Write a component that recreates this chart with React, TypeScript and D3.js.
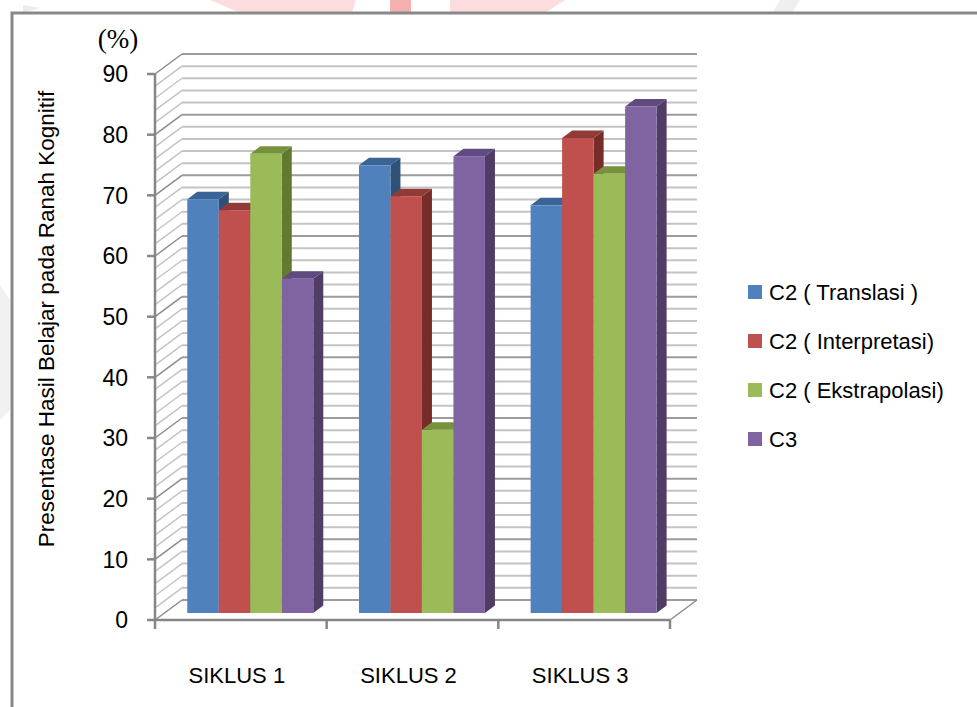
import * as d3 from 'd3';
import React from 'react';

// data
const categories = ['SIKLUS 1', 'SIKLUS 2', 'SIKLUS 3'];
const seriesNames = ['C2 ( Translasi )', 'C2 ( Interpretasi)', 'C2 ( Ekstrapolasi)', 'C3'];
const translasi = [68.2, 73.8, 67.2];
const interpretasi = [66.4, 68.7, 78.3];
const ekstrapolasi = [75.7, 30.2, 72.4];
const c3 = [55.1, 75.3, 83.5];
const yTicks = [0, 10, 20, 30, 40, 50, 60, 70, 80, 90];

const frontColors = ['#4F81BD', '#C0504D', '#9BBB59', '#8064A2'];
const topColors = ['#3A6496', '#913B39', '#76923C', '#5F4B80'];
const sideColors = ['#2F5178', '#772C2A', '#62792F', '#4F3D66'];

const W = 977;
const H = 707;
const sans = "'Liberation Sans', Arial, sans-serif";
const serif = "'Liberation Serif', 'Times New Roman', serif";

export default function App() {
	const values = [translasi, interpretasi, ekstrapolasi, c3];

	// 3d box of the plot
	const depthX = 27;
	const depthY = -20;
	const x0 = d3.scaleBand<string>().domain(categories).range([155, 670]).paddingInner(0).paddingOuter(0);
	const x1 = d3
		.scaleBand<string>()
		.domain(seriesNames)
		.range([0, x0.bandwidth()])
		.paddingInner(0)
		.paddingOuter(0.725);
	const y = d3.scaleLinear().domain([0, 90]).range([620, 74]);

	const barF = 0.35; // where the front face of the bars sits in depth
	const barDx = 10;
	const barDy = -7.5;
	const bx = barF * depthX;
	const by = barF * depthY;

	const grid = d3.range(0, 91, 2);
	const xLeft = 155;
	const xRight = 670;

	const bars: any[] = [];
	categories.forEach((c, ci) => {
		seriesNames.forEach((s, si) => {
			bars.push({ c, s, si, v: values[si][ci] });
		});
	});

	return (
		<div style={{ position: 'absolute', left: 0, top: 0 }}>
			<svg width={W} height={H} viewBox={`0 0 ${W} ${H}`} style={{ display: 'block', background: '#fff' }}>
				{/* faint watermark behind the chart frame */}
				<g>
					<polygon points="210,0 356,0 352,13 240,13" fill="#fcdcdc" />
					<polygon points="390,0 411,0 411,13 390,13" fill="#f7b0b0" />
					<polygon points="450,0 565,0 545,13 450,13" fill="#fcdcdc" />
					<polygon points="23,5 40,8 23,13" fill="#ececec" />
					<polygon points="780,0 800,0 792,13 772,13" fill="#efefef" />
					<polygon points="0,285 10,300 10,410 0,420" fill="#f1f1f1" />
				</g>

				{/* frame */}
				<path d={`M12,${H} L12,13 L${W},13`} fill="none" stroke="#888" strokeWidth={3} />

				{/* back wall gridlines */}
				{grid.map(v => (
					<line
						key={'g' + v}
						x1={xLeft + depthX}
						x2={xRight + depthX}
						y1={y(v) + depthY}
						y2={y(v) + depthY}
						stroke={v % 10 === 0 ? '#9c9c9c' : '#c4c4c4'}
						strokeWidth={2}
					/>
				))}
				{/* side wall gridlines */}
				{grid.map(v => (
					<line
						key={'s' + v}
						x1={xLeft}
						x2={xLeft + depthX}
						y1={y(v)}
						y2={y(v) + depthY}
						stroke={v % 10 === 0 ? '#8c8c8c' : '#c4c4c4'}
						strokeWidth={1.5}
					/>
				))}
				{/* floor */}
				<line x1={xRight} y1={y(0)} x2={xRight + depthX} y2={y(0) + depthY} stroke="#8c8c8c" strokeWidth={1.5} />

				{/* bars */}
				{bars.map((d, i) => {
					const xl = (x0(d.c) as number) + (x1(d.s) as number) + bx;
					const xr = xl + x1.bandwidth();
					const yt = y(d.v) + by;
					const yb = y(0) + by;
					return (
						<g key={'b' + i}>
							<polygon
								points={`${xr},${yt} ${xr + barDx},${yt + barDy} ${xr + barDx},${yb + barDy} ${xr},${yb}`}
								fill={sideColors[d.si]}
							/>
							<polygon
								points={`${xl},${yt} ${xl + barDx},${yt + barDy} ${xr + barDx},${yt + barDy} ${xr},${yt}`}
								fill={topColors[d.si]}
							/>
							<rect x={xl} y={yt} width={xr - xl} height={yb - yt} fill={frontColors[d.si]} />
						</g>
					);
				})}

				{/* front axes */}
				<line x1={xLeft} x2={xLeft} y1={y(0) + 1} y2={y(90)} stroke="#868686" strokeWidth={2.5} />
				{yTicks.map(t => (
					<line key={'t' + t} x1={xLeft - 8} x2={xLeft} y1={y(t)} y2={y(t)} stroke="#868686" strokeWidth={2.5} />
				))}
				<line x1={xLeft} x2={xRight} y1={y(0)} y2={y(0)} stroke="#868686" strokeWidth={2.5} />
				{[...categories.map(c => x0(c) as number), xRight].map((xv, i) => (
					<line key={'xt' + i} x1={xv} x2={xv} y1={y(0)} y2={y(0) + 9} stroke="#868686" strokeWidth={2.5} />
				))}

				{/* y tick labels */}
				<g fontFamily={sans} fontSize={23} fill="#000" textAnchor="end">
					{yTicks.map(t => (
						<text key={'yl' + t} x={128} y={y(t)} dy="0.36em">
							{t}
						</text>
					))}
				</g>

				{/* category labels */}
				<g fontFamily={sans} fontSize={22} fill="#000" textAnchor="middle">
					{categories.map(c => (
						<text key={c} x={(x0(c) as number) + x0.bandwidth() / 2 - 4} y={683}>
							{c}
						</text>
					))}
				</g>

				{/* unit and axis title */}
				<text x={118} y={48} fontFamily={serif} fontSize={27} textAnchor="middle">
					(%)
				</text>
				<text transform="translate(54,319) rotate(-90)" fontFamily={sans} fontSize={22.5} textAnchor="middle">
					Presentase Hasil Belajar pada Ranah Kognitif
				</text>

				{/* legend */}
				<g fontFamily={sans} fontSize={22}>
					{seriesNames.map((s, i) => (
						<g key={'lg' + s} transform={`translate(748,${292 + i * 49})`}>
							<rect x={0} y={-7} width={14} height={14} fill={frontColors[i]} />
							<text x={21} y={0} dy="0.36em">
								{s}
							</text>
						</g>
					))}
				</g>
			</svg>
		</div>
	);
}
